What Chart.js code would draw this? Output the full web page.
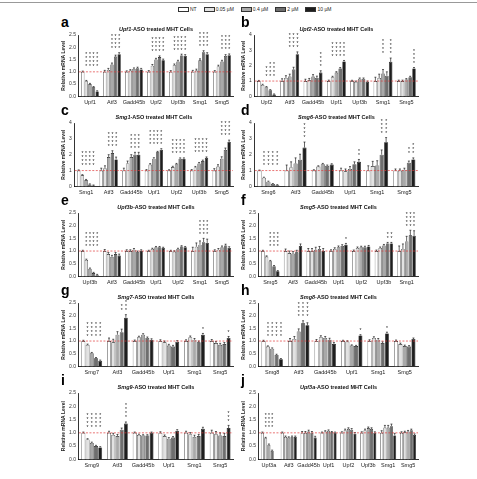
<!DOCTYPE html>
<html><head><meta charset="utf-8">
<script src="https://cdn.jsdelivr.net/npm/chart.js@4/dist/chart.umd.min.js"></script>
<style>
body{margin:0;background:#fff;width:477px;height:479px;overflow:hidden;position:relative;font-family:"Liberation Sans",Arial,sans-serif;}
.p{position:absolute;}
.lt{position:absolute;font-weight:bold;font-size:14px;line-height:14px;color:#000;}
.ti{position:absolute;font-weight:bold;font-size:5.5px;line-height:6px;white-space:nowrap;transform:translateX(-50%);color:#111;}
#topline{position:absolute;left:0;top:2px;width:477px;height:1px;background:#999;}
#legend{position:absolute;top:6px;left:178px;font-size:5px;line-height:6px;white-space:nowrap;color:#222;}
#legend span.it{display:inline-block;margin-right:7px;}
#legend span.sw{display:inline-block;width:9px;height:3px;border:0.6px solid #333;vertical-align:middle;margin-right:1px;}
</style></head><body>
<div id="topline"></div>
<div id="legend"></div>
<script>
// ---------- data ----------
const seriesLabels = ['NT', '0.05 \u00b5M', '0.4 \u00b5M', '2 \u00b5M', '10 \u00b5M'];
const seriesColors = ['#ffffff', '#e2e2e2', '#a9a9a9', '#6e6e6e', '#1e1e1e'];

const aGene = 'Upf1';
const aCats = ['Upf1', 'Atf3', 'Gadd45b', 'Upf2', 'Upf3b', 'Smg1', 'Smg5'];
const aVals = [[1, .62, .5, .37, .2], [1, 1.08, 1.3, 1.62, 1.72], [1, 1.05, 1.12, 1.15, 1.1], [1, 1.25, 1.5, 1.6, 1.47], [1, 1.27, 1.42, 1.67, 1.65], [1, 1.05, 1.47, 1.8, 1.72], [1, 1.22, 1.42, 1.65, 1.68]];
const aErr = [.03, .06, .04, .05, .05, .06, .05];
const aStars = [[4, 4, 4, 4], [0, 4, 4, 4], [0, 0, 0, 0], [4, 4, 4, 4], [4, 4, 4, 4], [0, 4, 4, 4], [0, 4, 4, 4]];

const bGene = 'Upf2';
const bCats = ['Upf2', 'Atf3', 'Gadd45b', 'Upf1', 'Upf3b', 'Smg1', 'Smg5'];
const bVals = [[1, .75, .6, .4, .12], [1, 1.2, 1.3, 1.75, 2.75], [1, 1.05, 1.3, 1.2, 1.55], [1, 1.25, 1.55, 1.82, 2.28], [1, .95, 1.15, 1.15, .95], [1, 1.2, 1.5, 1.35, 2.25], [1, 1, 1.1, 1.25, 1.82]];
const bErr = [.04, .15, .12, .06, .05, .25, .06];
const bStars = [[0, 3, 4, 4], [0, 4, 4, 4], [0, 0, 0, 4], [4, 4, 4, 4], [0, 0, 0, 0], [0, 4, 0, 4], [0, 0, 0, 4]];

const cGene = 'Smg1';
const cCats = ['Smg1', 'Atf3', 'Gadd45b', 'Upf1', 'Upf2', 'Upf3b', 'Smg5'];
const cVals = [[1, .7, .4, .12, .05], [1, 1.15, 1.85, 2.1, 1.7], [1, 1.45, 1.85, 2, 2], [1, 1.38, 1.75, 2.15, 2.32], [1, 1.22, 1.4, 1.75, 1.75], [1, 1.2, 1.45, 1.6, 1.8], [1, 1.25, 1.75, 2.3, 2.8]];
const cErr = [.04, .15, .15, .06, .05, .06, .12];
const cStars = [[4, 4, 4, 4], [0, 4, 4, 4], [0, 4, 4, 4], [4, 4, 4, 4], [4, 4, 4, 4], [4, 4, 4, 4], [0, 4, 4, 4]];

const dGene = 'Smg6';
const dCats = ['Smg6', 'Atf3', 'Gadd45b', 'Upf1', 'Smg1', 'Smg5'];
const dVals = [[1, .55, .3, .15, .08], [1, 1.2, 1.45, 1.68, 2.45], [1, 1.25, 1.4, 1.3, 1.38], [1, .95, 1.1, 1.4, 1.55], [1, 1.28, 1.32, 2, 2.78], [1, 1, 1.05, 1.5, 1.7]];
const dErr = [.03, .35, .05, .15, .3, .1];
const dStars = [[4, 4, 4, 4], [0, 0, 0, 4], [0, 0, 0, 0], [0, 0, 0, 2], [0, 0, 4, 4], [0, 0, 2, 3]];

const eGene = 'Upf3b';
const eCats = ['Upf3b', 'Atf3', 'Gadd45b', 'Upf1', 'Upf2', 'Smg1', 'Smg5'];
const eVals = [[1, .65, .3, .13, .05], [1, .88, .77, .88, .82], [1, 1, 1.05, .95, 1], [1, 1.08, 1.15, 1.15, 1.12], [1, .98, 1.08, 1.18, 1.15], [1, 1.17, 1.25, 1.35, 1.32], [1, 1.05, 1.15, 1.22, 1.12]];
const eErr = [.03, .06, .05, .03, .03, .15, .05];
const eStars = [[4, 4, 4, 4], [0, 0, 0, 0], [0, 0, 0, 0], [0, 0, 0, 0], [0, 0, 0, 0], [0, 4, 4, 4], [0, 0, 0, 0]];

const fGene = 'Smg5';
const fCats = ['Smg5', 'Atf3', 'Gadd45b', 'Upf1', 'Upf2', 'Upf3b', 'Smg1'];
const fVals = [[1, .78, .6, .4, .2], [1, .92, .9, .95, 1.2], [1, 1, 1.05, 1.08, 1], [1, 1.08, 1.15, 1.2, 1.25], [1, 1.12, 1.15, 1.15, 1.18], [1, 1.12, 1.22, 1.3, 1.3], [1, 1.08, 1.38, 1.62, 1.6]];
const fErr = [.03, .08, .1, .05, .04, .04, .2];
const fStars = [[0, 4, 4, 4], [0, 0, 0, 0], [0, 0, 0, 0], [0, 0, 0, 1], [0, 0, 0, 0], [0, 0, 2, 2], [0, 4, 4, 4]];

const gGene = 'Smg7';
const gCats = ['Smg7', 'Atf3', 'Gadd45b', 'Upf1', 'Smg1', 'Smg5'];
const gVals = [[1, .85, .52, .32, .22], [1, .95, 1.25, 1.35, 1.92], [1, 1.15, 1.25, 1.12, 1.05], [1, .95, .82, .78, .97], [1, 1.15, 1.05, .95, 1.25], [1, .92, .85, .88, 1.12]];
const gErr = [.03, .12, .04, .05, .05, .06];
const gStars = [[4, 4, 4, 4], [0, 0, 2, 4], [0, 0, 0, 0], [0, 0, 0, 0], [0, 0, 0, 1], [0, 0, 0, 1]];

const hGene = 'Smg8';
const hCats = ['Smg8', 'Atf3', 'Gadd45b', 'Upf1', 'Smg1', 'Smg5'];
const hVals = [[1, .78, .7, .45, .28], [1, 1.08, 1.38, 1.7, 1.62], [1, 1.15, 1.12, 1.05, .88], [1, .98, .82, .8, 1.22], [1, 1.12, 1.05, .92, 1.3], [1, .88, .8, .78, 1.08]];
const hErr = [.03, .1, .06, .03, .05, .04];
const hStars = [[4, 4, 4, 4], [0, 4, 4, 4], [0, 0, 0, 0], [0, 0, 0, 1], [0, 0, 0, 1], [0, 0, 0, 0]];

const iGene = 'Smg9';
const iCats = ['Smg9', 'Atf3', 'Gadd45b', 'Upf1', 'Smg1', 'Smg5'];
const iVals = [[1, .75, .62, .5, .45], [1, .92, .88, 1.12, 1.35], [1, .92, .9, .9, 1], [1, .88, .78, .82, 1.08], [1, .95, .85, .88, 1.15], [1, .95, .9, .88, 1.18]];
const iErr = [.03, .06, .03, .04, .06, .1];
const iStars = [[4, 4, 4, 4], [0, 0, 0, 4], [0, 0, 0, 0], [0, 0, 0, 0], [0, 0, 0, 0], [0, 0, 0, 3]];

const jGene = 'Upf3a';
const jCats = ['Upf3a', 'Atf3', 'Gadd45b', 'Upf1', 'Upf2', 'Upf3b', 'Smg1', 'Smg5'];
const jVals = [[1, .8, .55, .32, null], [1, .85, .82, .85, .85], [1, 1, 1.05, 1, .82], [1, 1.05, 1.08, 1.02, 1], [1, 1.1, 1.15, 1.12, .97], [1, 1.1, 1.18, 1.15, 1], [1, 1.2, 1.2, 1.25, .9], [1, 1.02, 1.05, 1.1, .92]];
const jErr = [.03, .03, .05, .03, .04, .04, .08, .04];
const jStars = [[4, 4, 4, 0], [0, 0, 0, 0], [0, 0, 0, 0], [0, 0, 0, 0], [0, 0, 0, 0], [0, 0, 0, 0], [0, 0, 0, 0], [0, 0, 0, 0]];

// ---------- layout ----------
const panels = [
  {id: 'a', gene: aGene, cats: aCats, vals: aVals, err: aErr, stars: aStars, ymax: 2.5, x: 60, y: 31, w: 175, h: 76},
  {id: 'b', gene: bGene, cats: bCats, vals: bVals, err: bErr, stars: bStars, ymax: 4, x: 240, y: 31, w: 180, h: 76},
  {id: 'c', gene: cGene, cats: cCats, vals: cVals, err: cErr, stars: cStars, ymax: 4, x: 60, y: 119, w: 175, h: 78},
  {id: 'd', gene: dGene, cats: dCats, vals: dVals, err: dErr, stars: dStars, ymax: 4, x: 240, y: 119, w: 180, h: 78},
  {id: 'e', gene: eGene, cats: eCats, vals: eVals, err: eErr, stars: eStars, ymax: 2.5, x: 60, y: 209, w: 175, h: 78},
  {id: 'f', gene: fGene, cats: fCats, vals: fVals, err: fErr, stars: fStars, ymax: 2.5, x: 240, y: 209, w: 180, h: 78},
  {id: 'g', gene: gGene, cats: gCats, vals: gVals, err: gErr, stars: gStars, ymax: 2.5, x: 60, y: 299, w: 175, h: 78},
  {id: 'h', gene: hGene, cats: hCats, vals: hVals, err: hErr, stars: hStars, ymax: 2.5, x: 240, y: 299, w: 180, h: 78},
  {id: 'i', gene: iGene, cats: iCats, vals: iVals, err: iErr, stars: iStars, ymax: 2.5, x: 60, y: 389, w: 175, h: 81},
  {id: 'j', gene: jGene, cats: jCats, vals: jVals, err: jErr, stars: jStars, ymax: 2.5, x: 240, y: 389, w: 180, h: 81}
];

// legend
const lg = document.getElementById('legend');
seriesLabels.forEach((l, k) => {
  const it = document.createElement('span'); it.className = 'it';
  const sw = document.createElement('span'); sw.className = 'sw'; sw.style.background = seriesColors[k];
  it.appendChild(sw); it.appendChild(document.createTextNode(l)); lg.appendChild(it);
});

const extras = {
  id: 'extras',
  afterDatasetsDraw(chart, args, opts) {
    const ctx = chart.ctx, ys = chart.scales.y, ca = chart.chartArea;
    const err = opts.err, stars = opts.stars;
    ctx.save();
    ctx.strokeStyle = '#000'; ctx.lineWidth = 0.6;
    chart.data.datasets.forEach((ds, di) => {
      const meta = chart.getDatasetMeta(di);
      meta.data.forEach((bar, ci) => {
        const v = ds.data[ci]; if (v == null) return;
        const e = err[ci]; if (!e) return;
        const top = ys.getPixelForValue(v + e);
        ctx.beginPath();
        ctx.moveTo(bar.x, bar.y); ctx.lineTo(bar.x, top);
        ctx.moveTo(bar.x - 1, top); ctx.lineTo(bar.x + 1, top);
        ctx.stroke();
      });
    });
    ctx.strokeStyle = '#e03a3a'; ctx.setLineDash([2, 1.5]); ctx.lineWidth = 0.7;
    const y1 = ys.getPixelForValue(1);
    ctx.beginPath(); ctx.moveTo(ca.left, y1); ctx.lineTo(ca.right, y1); ctx.stroke();
    ctx.setLineDash([]);
    ctx.fillStyle = '#222'; ctx.font = '5px "Liberation Sans", Arial'; ctx.textAlign = 'center'; ctx.textBaseline = 'middle';
    stars.forEach((row, ci) => {
      let gmax = 0;
      chart.data.datasets.forEach((ds) => { const v = ds.data[ci]; if (v != null) gmax = Math.max(gmax, v + (err[ci] || 0)); });
      const base = ys.getPixelForValue(gmax) - 4;
      row.forEach((n, k) => {
        const bar = chart.getDatasetMeta(k + 1).data[ci];
        for (let s = 0; s < n; s++) ctx.fillText('*', bar.x, base - s * 4);
      });
    });
    ctx.restore();
  }
};

panels.forEach(p => {
  const letter = document.createElement('div'); letter.className = 'lt'; letter.textContent = p.id;
  letter.style.left = (p.x + 1) + 'px'; letter.style.top = (p.y - 16) + 'px';
  document.body.appendChild(letter);
  const wrap = document.createElement('div'); wrap.className = 'p';
  wrap.style.left = p.x + 'px'; wrap.style.top = p.y + 'px'; wrap.style.width = p.w + 'px'; wrap.style.height = p.h + 'px';
  const cv = document.createElement('canvas'); wrap.appendChild(cv); document.body.appendChild(wrap);
  const datasets = seriesLabels.map((l, k) => ({
    label: l,
    data: p.vals.map(row => row[k]),
    backgroundColor: seriesColors[k],
    borderColor: '#111',
    borderWidth: 0.6,
    categoryPercentage: 0.82,
    barPercentage: 0.92
  }));
  const tickDec = p.ymax === 4 ? 0 : 1;
  const ch = new Chart(cv, {
    type: 'bar',
    data: {labels: p.cats, datasets},
    options: {
      responsive: true, maintainAspectRatio: false, animation: false,
      devicePixelRatio: 1,
      layout: {padding: {top: 3, right: 2, left: 0, bottom: 0}},
      plugins: {legend: {display: false}, tooltip: {enabled: false}, title: {display: false},
        extras: {err: p.err, stars: p.stars}},
      scales: {
        x: {
          grid: {display: false, drawTicks: true, tickLength: 2, color: '#000'},
          border: {color: '#000', width: 0.8},
          ticks: {font: {size: 5.5, family: '"Liberation Sans", Arial'}, color: '#222', padding: 1, maxRotation: 0, autoSkip: false}
        },
        y: {
          min: 0, max: p.ymax,
          grid: {display: false, drawTicks: true, tickLength: 2, color: '#000'},
          border: {color: '#000', width: 0.8},
          ticks: {stepSize: p.ymax === 4 ? 1 : 0.5, font: {size: 5, family: '"Liberation Sans", Arial'}, color: '#333', padding: 1,
            callback: v => Number(v).toFixed(tickDec)},
          title: {display: true, text: 'Relative mRNA Level', font: {size: 5, weight: 'bold', family: '"Liberation Sans", Arial'}, color: '#222', padding: 1}
        }
      }
    },
    plugins: [extras]
  });
  const ca = ch.chartArea;
  const t = document.createElement('div'); t.className = 'ti';
  t.innerHTML = '<i>' + p.gene + '</i>-ASO treated MHT Cells';
  t.style.left = (p.x + (ca.left + ca.right) / 2) + 'px';
  t.style.top = (p.y - 5) + 'px';
  document.body.appendChild(t);
});
</script>
</body></html>
